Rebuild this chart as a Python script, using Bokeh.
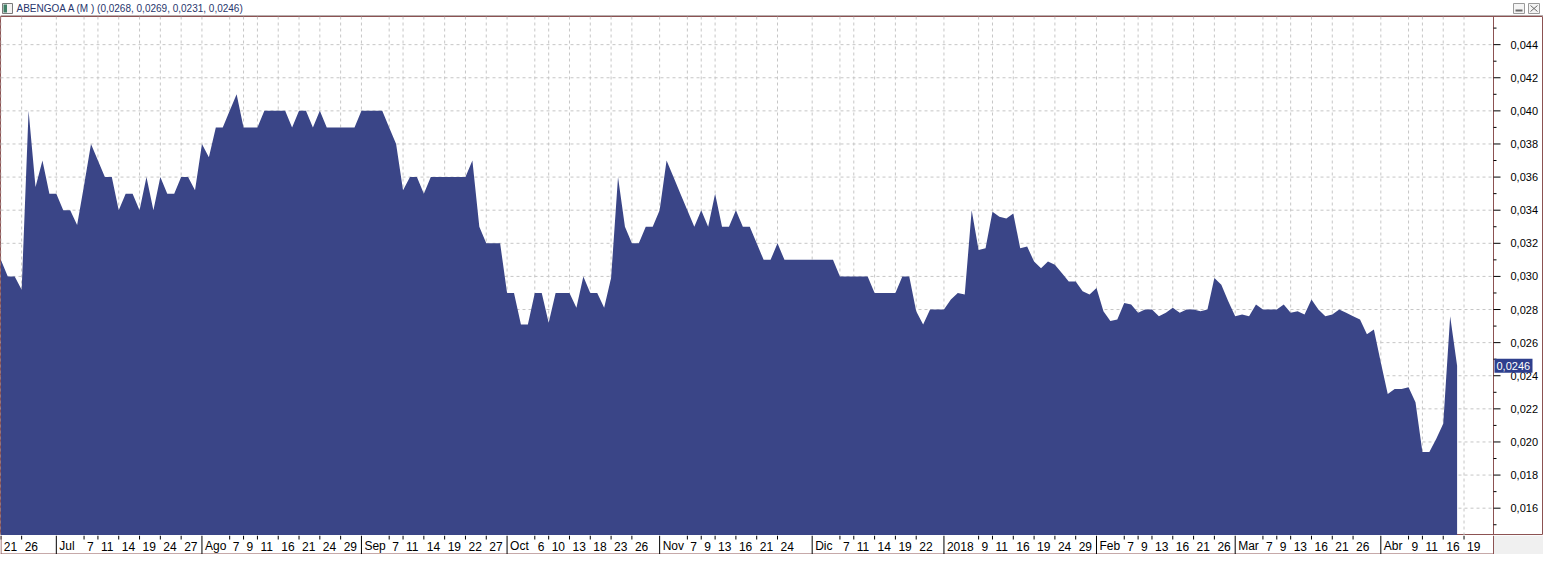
import pandas as pd
from bokeh.plotting import figure
from bokeh.layouts import column
from bokeh.models import Range1d
from bokeh.core.properties import value
from bokeh.embed import file_html
from bokeh.resources import INLINE

# ---------------- data ----------------
title_text = "ABENGOA A (M ) (0,0268, 0,0269, 0,0231, 0,0246)"
start_date = "2017-06-21"
market_holidays = ["2017-12-25", "2017-12-26", "2018-01-01", "2018-03-30", "2018-04-02"]

prices = [
    0.0310, 0.0300, 0.0300, 0.0292, 0.0400, 0.0354, 0.0370, 0.0350, 0.0350, 0.0340,
    0.0340, 0.0331, 0.0355, 0.0380, 0.0370, 0.0360, 0.0360, 0.0340, 0.0350, 0.0350,
    0.0340, 0.0360, 0.0340, 0.0360, 0.0350, 0.0350, 0.0360, 0.0360, 0.0352, 0.0380,
    0.0372, 0.0390, 0.0390, 0.0400, 0.0410, 0.0390, 0.0390, 0.0390, 0.0400, 0.0400,
    0.0400, 0.0400, 0.0390, 0.0400, 0.0400, 0.0390, 0.0400, 0.0390, 0.0390, 0.0390,
    0.0390, 0.0390, 0.0400, 0.0400, 0.0400, 0.0400, 0.0390, 0.0380, 0.0352, 0.0360,
    0.0360, 0.0350, 0.0360, 0.0360, 0.0360, 0.0360, 0.0360, 0.0360, 0.0370, 0.0330,
    0.0320, 0.0320, 0.0320, 0.0290, 0.0290, 0.0271, 0.0271, 0.0290, 0.0290, 0.0272,
    0.0290, 0.0290, 0.0290, 0.0281, 0.0300, 0.0290, 0.0290, 0.0281, 0.0299, 0.0360,
    0.0330, 0.0320, 0.0320, 0.0330, 0.0330, 0.0340, 0.0370, 0.0360, 0.0350, 0.0340,
    0.0330, 0.0340, 0.0330, 0.0350, 0.0330, 0.0330, 0.0340, 0.0330, 0.0330, 0.0320,
    0.0310, 0.0310, 0.0320, 0.0310, 0.0310, 0.0310, 0.0310, 0.0310, 0.0310, 0.0310,
    0.0310, 0.0300, 0.0300, 0.0300, 0.0300, 0.0300, 0.0290, 0.0290, 0.0290, 0.0290,
    0.0300, 0.0300, 0.0279, 0.0271, 0.0280, 0.0280, 0.0280, 0.0286, 0.0290, 0.0289,
    0.0340, 0.0316, 0.0317, 0.0339, 0.0336, 0.0335, 0.0338, 0.0317, 0.0318, 0.0309,
    0.0305, 0.0309, 0.0307, 0.0302, 0.0297, 0.0297, 0.0291, 0.0289, 0.0293, 0.0279,
    0.0273, 0.0274, 0.0284, 0.0283, 0.0278, 0.0280, 0.0280, 0.0276, 0.0278, 0.0281,
    0.0278, 0.0280, 0.0280, 0.0279, 0.0280, 0.0299, 0.0295, 0.0285, 0.0276, 0.0277,
    0.0276, 0.0283, 0.0280, 0.0280, 0.0280, 0.0283, 0.0278, 0.0279, 0.0277, 0.0286,
    0.0280, 0.0276, 0.0277, 0.0280, 0.0278, 0.0276, 0.0274, 0.0265, 0.0268, 0.0248,
    0.0229, 0.0232, 0.0232, 0.0233, 0.0224, 0.0194, 0.0194, 0.0202, 0.0211, 0.0276,
    0.0246,
]

tick_dates = [
    "2017-06-21", "2017-06-26",
    "2017-07-03", "2017-07-07", "2017-07-11", "2017-07-14", "2017-07-19", "2017-07-24", "2017-07-27",
    "2017-08-01", "2017-08-07", "2017-08-09", "2017-08-11", "2017-08-16", "2017-08-21", "2017-08-24", "2017-08-29",
    "2017-09-01", "2017-09-07", "2017-09-11", "2017-09-14", "2017-09-19", "2017-09-22", "2017-09-27",
    "2017-10-02", "2017-10-06", "2017-10-10", "2017-10-13", "2017-10-18", "2017-10-23", "2017-10-26",
    "2017-11-01", "2017-11-07", "2017-11-09", "2017-11-13", "2017-11-16", "2017-11-21", "2017-11-24",
    "2017-12-01", "2017-12-07", "2017-12-11", "2017-12-14", "2017-12-19", "2017-12-22",
    "2018-01-02", "2018-01-09", "2018-01-11", "2018-01-16", "2018-01-19", "2018-01-24", "2018-01-29",
    "2018-02-01", "2018-02-07", "2018-02-09", "2018-02-13", "2018-02-16", "2018-02-21", "2018-02-26",
    "2018-03-01", "2018-03-07", "2018-03-09", "2018-03-13", "2018-03-16", "2018-03-21", "2018-03-26",
    "2018-04-03", "2018-04-09", "2018-04-11", "2018-04-16", "2018-04-19",
]
tick_labels = [
    "21", "26",
    "Jul", "7", "11", "14", "19", "24", "27",
    "Ago", "7", "9", "11", "16", "21", "24", "29",
    "Sep", "7", "11", "14", "19", "22", "27",
    "Oct", "6", "10", "13", "18", "23", "26",
    "Nov", "7", "9", "13", "16", "21", "24",
    "Dic", "7", "11", "14", "19", "22",
    "2018", "9", "11", "16", "19", "24", "29",
    "Feb", "7", "9", "13", "16", "21", "26",
    "Mar", "7", "9", "13", "16", "21", "26",
    "Abr", "9", "11", "16", "19",
]

y_major = [0.016, 0.018, 0.020, 0.022, 0.024, 0.026, 0.028, 0.030,
           0.032, 0.034, 0.036, 0.038, 0.040, 0.042, 0.044]
y_labels = ["0,016", "0,018", "0,020", "0,022", "0,024", "0,026", "0,028", "0,030",
            "0,032", "0,034", "0,036", "0,038", "0,040", "0,042", "0,044"]
y_minor = [0.015, 0.017, 0.019, 0.021, 0.023, 0.025, 0.027, 0.029,
           0.031, 0.033, 0.035, 0.037, 0.039, 0.041, 0.043, 0.045]
last_value = 0.0246
last_label = "0,0246"

# ---------------- trading-day index ----------------
days = pd.bdate_range(start_date, "2018-05-31")
days = days[~days.isin(pd.to_datetime(market_holidays))]
pos = {d: i for i, d in enumerate(days)}
xs = list(range(len(prices)))
tick_x = [pos[pd.Timestamp(d)] for d in tick_dates]
is_month = [not (lab.isdigit() and len(lab) < 4) for lab in tick_labels]

# ---------------- geometry / style ----------------
W = 1543
RIGHT = 50
FRAME_W = W - RIGHT
MAIN_H = 519
AX_H = 19
FONT = "Liberation Sans"
BROWN = "#8c5252"
GRIDC = "#c6c6c6"
FILL = "#3a4587"
TAG = "#2e3f8d"

X0, XB = -0.05, 215.25                 # data span of the price area
PX = (XB - X0) / FRAME_W               # data units per pixel (x)
XE = X0 + W * PX                       # frames also span the price-axis panel
Y0, Y1 = 0.01435, 0.0457
PY = (Y1 - Y0) / MAIN_H                # data units per pixel (y)


def bare(fig):
    fig.xgrid.visible = False
    fig.ygrid.visible = False
    fig.min_border_left = 0
    fig.min_border_right = 0
    fig.min_border_top = 0
    fig.min_border_bottom = 0
    return fig


# ---------------- title bar ----------------
t = bare(figure(width=W, height=16, x_range=Range1d(0, W), y_range=Range1d(0, 16),
                output_backend="svg", toolbar_location=None,
                x_axis_location=None, y_axis_location=None))
t.outline_line_color = None
t.quad(left=[2], right=[12], bottom=[3], top=[13], fill_color="#f2f2f2", line_color="#7a7a7a")
t.quad(left=[3], right=[6.5], bottom=[4], top=[12], fill_color="#3f7f66", line_color=None)
t.text(x=[16], y=[8.5], text=[title_text], text_font=value(FONT), text_font_size="10px",
       text_color="#28366c", text_baseline="middle")
t.quad(left=[W - 30, W - 15], right=[W - 19, W - 4], bottom=[3, 3], top=[13, 13],
       fill_color="#f4f4f4", line_color="#9a9a9a")
t.segment(x0=[W - 28], y0=[6], x1=[W - 21], y1=[6], line_color="#6a6a6a", line_width=2)
t.segment(x0=[W - 13, W - 13], y0=[5, 11], x1=[W - 6, W - 6], y1=[11, 5], line_color="#6a6a6a")
t.segment(x0=[0], y0=[0.5], x1=[W], y1=[0.5], line_color="#6e5e5e", line_width=1)

# ---------------- main chart (frame spans the price axis panel too) ----------------
p = bare(figure(width=W, height=MAIN_H, x_range=Range1d(X0, XE), y_range=Range1d(Y0, Y1),
                output_backend="svg", toolbar_location=None,
                x_axis_location=None, y_axis_location=None))
p.outline_line_color = BROWN
p.background_fill_color = "white"
p.border_fill_color = "white"

# dashed grid
p.segment(x0=tick_x, y0=[Y0] * len(tick_x), x1=tick_x, y1=[Y1] * len(tick_x),
          line_color=GRIDC, line_dash="3 3", line_width=1)
p.segment(x0=[X0] * len(y_major), y0=y_major, x1=[XB] * len(y_major), y1=y_major,
          line_color=GRIDC, line_dash="3 3", line_width=1)

# price area
p.varea(x=xs, y1=0.0, y2=prices, fill_color=FILL)

# price axis on the right
p.segment(x0=[XB], y0=[Y0], x1=[XB], y1=[Y1], line_color=BROWN, line_width=1)
p.segment(x0=[XB] * len(y_major), y0=y_major, x1=[XB + 7 * PX] * len(y_major), y1=y_major,
          line_color="black", line_width=1)
p.segment(x0=[XB] * len(y_minor), y0=y_minor, x1=[XB + 3 * PX] * len(y_minor), y1=y_minor,
          line_color="black", line_width=1)
p.text(x=[XB] * len(y_major), y=y_major, text=y_labels, x_offset=17,
       text_align="left", text_baseline="middle", text_font=value(FONT),
       text_font_size="11px", text_color="black")

# last-price tag
p.quad(left=[XB + 1 * PX], right=[XB + 39 * PX],
       bottom=[last_value - 7 * PY], top=[last_value + 7 * PY],
       fill_color=TAG, line_color=None)
p.text(x=[XB], y=[last_value], text=[last_label], x_offset=3,
       text_align="left", text_baseline="middle", text_font=value(FONT),
       text_font_size="11px", text_color="white")

# ---------------- bottom date axis ----------------
a = bare(figure(width=W, height=AX_H, x_range=Range1d(X0, XE), y_range=Range1d(0, AX_H),
                output_backend="svg", toolbar_location=None,
                x_axis_location=None, y_axis_location=None))
a.outline_line_color = None
a.background_fill_color = "white"
a.border_fill_color = "white"
a.quad(left=[XB], right=[XE], bottom=[0], top=[AX_H], fill_color="#f0f0f0", line_color=None)
a.segment(x0=[X0 + 0.5 * PX, X0, XB], y0=[0, 0.5, 0], x1=[X0 + 0.5 * PX, XB, XB], y1=[AX_H, 0.5, AX_H],
          line_color=BROWN, line_width=1)
a.segment(x0=tick_x, y0=[AX_H] * len(tick_x), x1=tick_x,
          y1=[0.0 if m else AX_H - 4 for m in is_month], line_color="black", line_width=1)
a.text(x=tick_x, y=[AX_H / 2 - 1] * len(tick_x), text=tick_labels, x_offset=3,
       text_align="left", text_baseline="middle", text_font=value(FONT),
       text_font_size="12px", text_color="black")

layout = column(t, p, a)
open("out.html", "w").write(file_html(layout, INLINE))
